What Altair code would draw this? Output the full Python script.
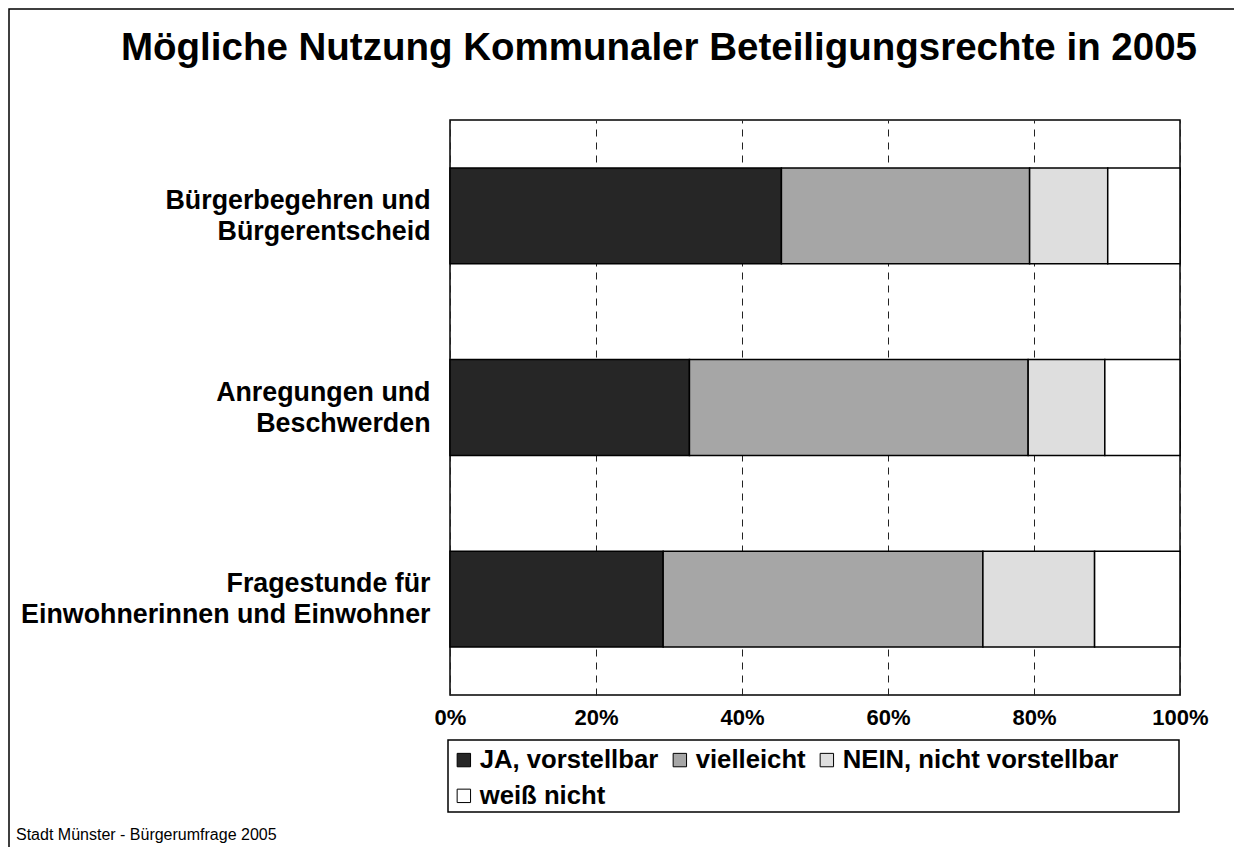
import altair as alt
import pandas as pd

categories = [
    "Bürgerbegehren und|Bürgerentscheid",
    "Anregungen und|Beschwerden",
    "Fragestunde für|Einwohnerinnen und Einwohner",
]
answers = ["JA, vorstellbar", "vielleicht", "NEIN, nicht vorstellbar", "weiß nicht"]
ja = [45.4, 32.8, 29.2]
vielleicht = [34.0, 46.4, 43.8]
nein = [10.7, 10.5, 15.3]
weiss_nicht = [9.9, 10.3, 11.7]
colors = ["#262626", "#a6a6a6", "#dedede", "#ffffff"]
x_ticks = [0, 20, 40, 60, 80, 100]

series = [ja, vielleicht, nein, weiss_nicht]
rows = []
for ci, cat in enumerate(categories):
    for ai, ans in enumerate(answers):
        rows.append({"Kategorie": cat, "Antwort": ans, "order": ai, "Wert": series[ai][ci]})
df = pd.DataFrame(rows)

FONT = "Liberation Sans"

bars = alt.Chart(df).mark_bar(stroke="black", strokeWidth=1.5).encode(
    y=alt.Y("Kategorie:N", sort=categories, title=None,
            scale=alt.Scale(paddingInner=0.5, paddingOuter=0.25),
            axis=alt.Axis(labelExpr="split(datum.label, '|')", labelFont=FONT,
                          labelFontSize=26.8, labelFontWeight="bold", labelColor="black",
                          labelLineHeight=31, labelOffset=-15, labelPadding=20,
                          ticks=False, domain=False, labelLimit=600)),
    x=alt.X("Wert:Q", stack="zero", title=None,
            scale=alt.Scale(domain=[0, 100], nice=False),
            axis=alt.Axis(values=x_ticks, labelExpr="datum.value + '%'", labelFont=FONT,
                          labelFontSize=22, labelFontWeight="bold", labelColor="black",
                          labelPadding=12, labelFlush=False, ticks=False, domain=False,
                          grid=True, gridColor="#222222", gridDash=[7, 6], gridWidth=1,
                          gridOpacity=1)),
    color=alt.Color("Antwort:N", sort=answers,
                    scale=alt.Scale(domain=answers, range=colors),
                    legend=alt.Legend(title=None, orient="none", direction="horizontal",
                                      columns=3, legendX=1, legendY=627,
                                      labelFont=FONT, labelFontSize=25.7, labelFontWeight="bold",
                                      labelColor="black", labelLimit=500,
                                      symbolType="square", symbolSize=180,
                                      symbolStrokeColor="black", symbolStrokeWidth=1,
                                      symbolOpacity=1, columnPadding=8, rowPadding=9,
                                      labelOffset=3, padding=0)),
    order=alt.Order("order:Q"),
)

# Legend frame (decoration)
legend_box = alt.Chart(pd.DataFrame({"a": [0]})).mark_rect(
    fill=None, stroke="black", strokeWidth=1.5, clip=False
).encode(x=alt.value(-2), x2=alt.value(729), y=alt.value(620), y2=alt.value(692))

# Outer frame (decoration)
frame = alt.Chart(pd.DataFrame({"a": [0]})).mark_rect(
    fill=None, stroke="black", strokeWidth=1.5, clip=False
).encode(x=alt.value(-441), x2=alt.value(900), y=alt.value(-111), y2=alt.value(900))

title = alt.Chart(pd.DataFrame({"t": ["Mögliche Nutzung Kommunaler Beteiligungsrechte in 2005"]})).mark_text(
    font=FONT, fontSize=38.5, fontWeight="bold", align="center", baseline="alphabetic", color="black"
).encode(text="t:N", x=alt.value(209), y=alt.value(-60))

footer = alt.Chart(pd.DataFrame({"t": ["Stadt Münster - Bürgerumfrage 2005"]})).mark_text(
    font=FONT, fontSize=16, align="left", baseline="middle", color="black"
).encode(text="t:N", x=alt.value(-434), y=alt.value(715))

chart = alt.layer(frame, bars, legend_box, title, footer).properties(
    width=730, height=575,
    autosize=alt.AutoSizeParams(type="none"),
    padding={"left": 442, "top": 112, "right": 54, "bottom": 152},
    background="white",
).configure_view(stroke="black", strokeWidth=1.5)

chart.save("out.html", embed_options={"renderer": "svg", "actions": False})
